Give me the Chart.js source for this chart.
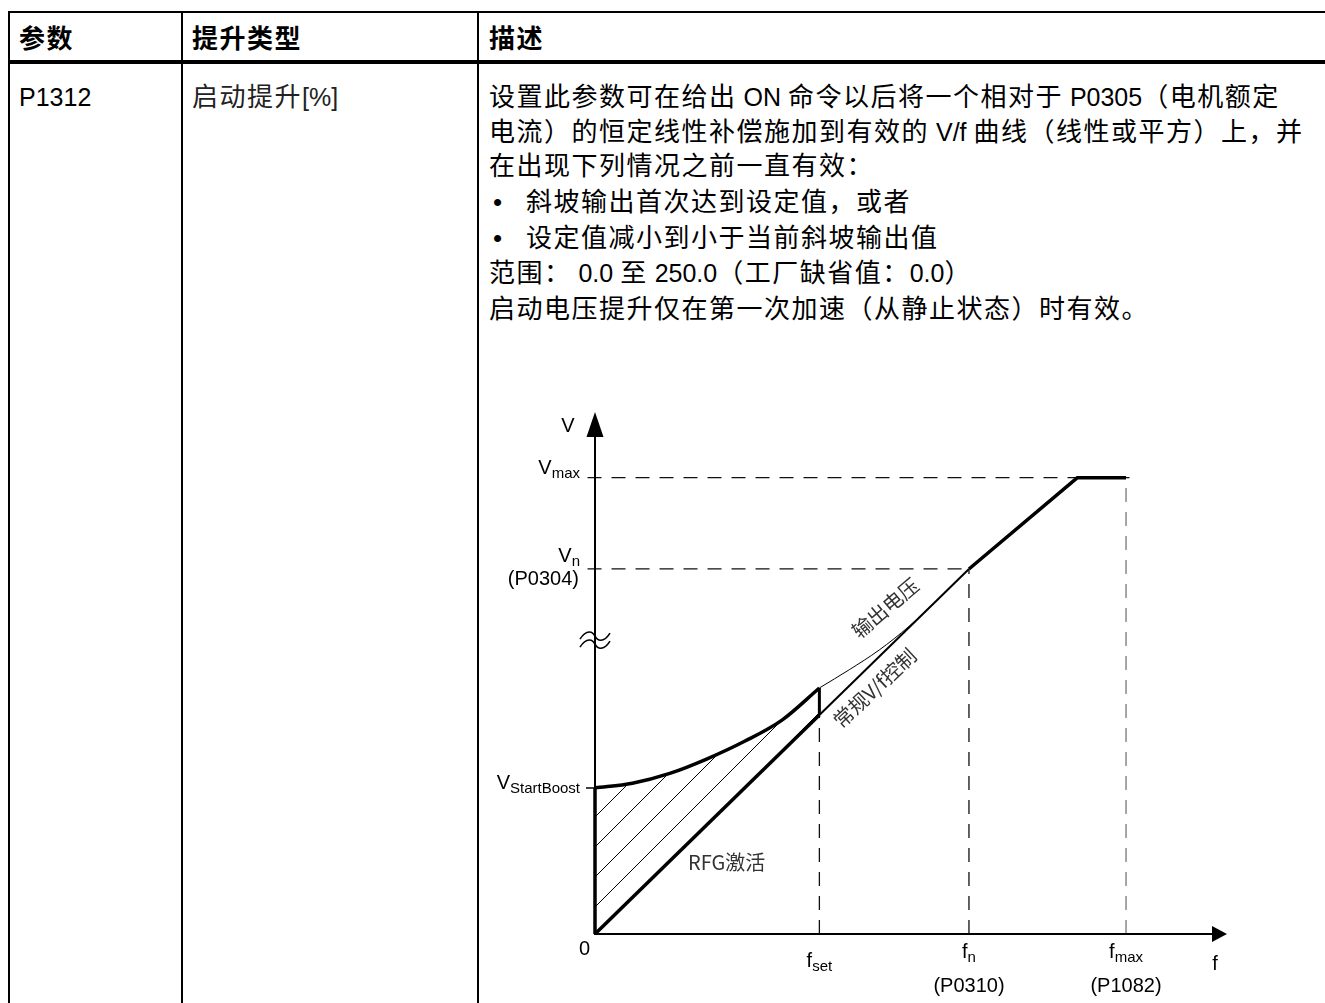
<!DOCTYPE html>
<html>
<head>
<meta charset="utf-8">
<script src="https://cdn.jsdelivr.net/npm/chart.js@4.4.1/dist/chart.umd.min.js"></script>
<style>
body { margin: 0; background: #fff; width: 1325px; height: 1003px; overflow: hidden; position: relative;
       font-family: "Liberation Sans", "Noto Sans CJK SC", sans-serif; color: #000; }
.ln { position: absolute; background: #000; }
.t { position: absolute; white-space: nowrap; font-size: 26px; line-height: 30px; letter-spacing: 1.5px; }
.t .l { letter-spacing: 0; font-size: 25px; }
.h { font-weight: bold; }
#c { position: absolute; left: 0; top: 0; }
</style>
</head>
<body>

<!-- table rules -->
<div class="ln" style="left:8px;top:11px;width:1317px;height:2px"></div>
<div class="ln" style="left:8px;top:60px;width:1317px;height:4px"></div>
<div class="ln" style="left:8px;top:11px;width:2px;height:992px"></div>
<div class="ln" style="left:181px;top:11px;width:2px;height:992px"></div>
<div class="ln" style="left:477px;top:11px;width:2px;height:992px"></div>

<!-- header -->
<div class="t h" style="left:19px;top:24px">参数</div>
<div class="t h" style="left:192px;top:24px">提升类型</div>
<div class="t h" style="left:489px;top:24px">描述</div>

<!-- row -->
<div class="t" style="left:19px;top:82px"><span class="l">P1312</span></div>
<div class="t" style="left:192px;top:82px;color:#222">启动提升<span class="l">[%]</span></div>

<div class="t" style="left:489px;top:82px">设置此参数可在给出<span class="l"> ON </span>命令以后将一个相对于<span class="l"> P0305</span>（电机额定</div>
<div class="t" style="left:489px;top:117px">电流）的恒定线性补偿施加到有效的<span class="l"> V/f </span>曲线（线性或平方）上，并</div>
<div class="t" style="left:489px;top:151px">在出现下列情况之前一直有效：</div>
<div class="t" style="left:493px;top:187px">•</div>
<div class="t" style="left:526px;top:187px">斜坡输出首次达到设定值，或者</div>
<div class="t" style="left:493px;top:223px">•</div>
<div class="t" style="left:526px;top:223px">设定值减小到小于当前斜坡输出值</div>
<div class="t" style="left:489px;top:258px">范围：<span class="l">&nbsp;0.0 </span>至<span class="l"> 250.0</span>（工厂缺省值：<span class="l">0.0</span>）</div>
<div class="t" style="left:489px;top:294px">启动电压提升仅在第一次加速（从静止状态）时有效。</div>

<canvas id="c" width="1325" height="1003"></canvas>

<script>
/* V/f curve data (f in Hz-like units, V in % of Vn) */

const boostF = [0, 5, 10, 15, 20, 25, 30];
const boostV = [40, 41.3, 44, 48, 52.8, 58.6, 67.4];

const outF = [30, 34, 38, 42, 46, 50];
const outV = [67.4, 72.4, 77.8, 84.3, 92, 100];

const vfF = [0, 30, 50, 64.5, 71];
const vfV = [0, 60, 100, 125, 125];

const fTicks = [30, 50, 71];
const fTickSubs = ["set", "n", "max"];
const fTickNotes = ["", "(P0310)", "(P1082)"];

const vTicks = [40, 100, 125];
const vTickSubs = ["StartBoost", "n", "max"];
const vTickNotes = ["", "(P0304)", ""];

const axisMaxF = 84.5;
const axisMaxV = 143;
const guideStartF = -1;
const vmaxGuideEndF = 72.5;
const breakV = 80.5;


/* helpers */

const pts = (fs, vs) => fs.map((f, i) => ({ x: f, y: vs[i] }));

function solid(data, width, extra) {
    return Object.assign({
        data: data,
        borderColor: "#000",
        borderWidth: width,
        pointRadius: 0,
        fill: false,
        clip: false,
        borderJoinStyle: "round"
    }, extra || {});
}

function dashed(data, color) {
    return solid(data, 1.3, { borderColor: color || "#111", borderDash: [14, 10], borderJoinStyle: "miter" });
}


/* hatch pattern for the boost area */

const tile = document.createElement("canvas");
tile.width = 30;
tile.height = 30;
const tctx = tile.getContext("2d");
tctx.strokeStyle = "#000";
tctx.lineWidth = 1;
tctx.beginPath();
tctx.moveTo(-2, 4); tctx.lineTo(4, -2);
tctx.moveTo(-2, 34); tctx.lineTo(34, -2);
tctx.stroke();
const hatch = tctx.createPattern(tile, "repeat");


/* Labels, axes and arrows */

const diagramPlugin = {
    id: "diagram",
    afterDatasetsDraw(chart) {
        const ctx = chart.ctx;
        const xs = chart.scales.x;
        const ys = chart.scales.y;
        const X = v => xs.getPixelForValue(v);
        const Y = v => ys.getPixelForValue(v);
        const x0 = X(0), y0 = Y(0);

        ctx.save();
        ctx.strokeStyle = "#000";
        ctx.fillStyle = "#000";

        // axes
        ctx.lineWidth = 2;
        ctx.beginPath();
        ctx.moveTo(x0, y0 + 1);
        ctx.lineTo(x0, Y(axisMaxV) + 20);
        ctx.moveTo(x0 - 1, y0);
        ctx.lineTo(X(axisMaxF) - 12, y0);
        ctx.stroke();

        ctx.beginPath();
        ctx.moveTo(x0, Y(axisMaxV));
        ctx.lineTo(x0 + 8.5, Y(axisMaxV) + 25);
        ctx.lineTo(x0 - 8.5, Y(axisMaxV) + 25);
        ctx.closePath();
        ctx.fill();

        ctx.beginPath();
        ctx.moveTo(X(axisMaxF), y0);
        ctx.lineTo(X(axisMaxF) - 15, y0 - 8);
        ctx.lineTo(X(axisMaxF) - 15, y0 + 8);
        ctx.closePath();
        ctx.fill();

        // start boost tick
        ctx.lineWidth = 1.5;
        ctx.beginPath();
        ctx.moveTo(x0 - 9, Y(vTicks[0]));
        ctx.lineTo(x0, Y(vTicks[0]));
        ctx.stroke();

        // axis break mark: two tildes
        const by = Y(breakV);
        ctx.lineWidth = 1.6;
        [-4, 4].forEach(dy => {
            ctx.beginPath();
            ctx.moveTo(x0 - 15, by + dy + 3);
            ctx.bezierCurveTo(x0 - 8, by + dy - 8, x0 - 2, by + dy - 4, x0, by + dy);
            ctx.bezierCurveTo(x0 + 2, by + dy + 4, x0 + 8, by + dy + 8, x0 + 15, by + dy - 3);
            ctx.stroke();
        });

        function sub(x, y, main, s, align) {
            ctx.font = '20px "Liberation Sans"';
            const w1 = ctx.measureText(main).width;
            ctx.font = '15px "Liberation Sans"';
            const w2 = ctx.measureText(s).width;
            let left = x;
            if (align === "right") left = x - w1 - w2;
            if (align === "center") left = x - (w1 + w2) / 2;
            ctx.textAlign = "left";
            ctx.textBaseline = "alphabetic";
            ctx.font = '20px "Liberation Sans"';
            ctx.fillText(main, left, y);
            ctx.font = '15px "Liberation Sans"';
            ctx.fillText(s, left + w1, y + 4);
        }

        function plain(x, y, txt, align, font) {
            ctx.font = font || '20px "Liberation Sans"';
            ctx.textAlign = align;
            ctx.textBaseline = "alphabetic";
            ctx.fillText(txt, x, y);
        }

        // V side labels
        const vBase = [1, -7, -4];
        vTicks.forEach((v, i) => {
            sub(x0 - 15, Y(v) + vBase[i], "V", vTickSubs[i], "right");
            if (vTickNotes[i]) plain(x0 - 16, Y(v) + 16, vTickNotes[i], "right");
        });

        // f side labels
        fTicks.forEach((f, i) => {
            const base = fTickNotes[i] ? 24 : 33;
            sub(X(f), y0 + base, "f", fTickSubs[i], "center");
            if (fTickNotes[i]) plain(X(f), y0 + 58, fTickNotes[i], "center");
        });

        plain(x0 - 5, y0 + 21, "0", "right");
        plain(X(axisMaxF) - 12, y0 + 36, "f", "center");
        plain(x0 - 27, Y(axisMaxV) + 20, "V", "center");

        // curve captions
        ctx.fillStyle = "#333";
        const caption = (f, v, ang, txt) => {
            ctx.save();
            ctx.translate(X(f), Y(v));
            ctx.rotate(ang * Math.PI / 180);
            ctx.font = '20px "Noto Sans CJK SC"';
            ctx.textAlign = "center";
            ctx.textBaseline = "middle";
            ctx.fillText(txt, 0, 0);
            ctx.restore();
        };
        caption(38.8, 89.3, -40, "输出电压");
        caption(37.4, 67.4, -43, "常规V/f控制");
        caption(17.6, 19.5, 0, "RFG激活");

        ctx.restore();
    }
};


/* Create Chart */

const ctx = document.getElementById("c");

new Chart(ctx, {
    type: "line",
    data: {
        datasets: [
            solid(pts(boostF, boostV), 3.5, { fill: 1, backgroundColor: hatch, cubicInterpolationMode: "monotone" }),
            solid(pts(vfF.slice(0, 2), vfV.slice(0, 2)), 3.5),
            solid(pts(vfF.slice(1, 3), vfV.slice(1, 3)), 2),
            solid(pts(vfF.slice(2), vfV.slice(2)), 3.5),
            solid(pts(outF, outV), 1, { cubicInterpolationMode: "monotone" }),
            solid(pts([0, 0], [0, boostV[0]]), 3.5),
            solid(pts([fTicks[0], fTicks[0]], [vfV[1], boostV[boostV.length - 1]]), 3),
            dashed(pts([guideStartF, vmaxGuideEndF], [vTicks[2], vTicks[2]])),
            dashed(pts([guideStartF, fTicks[1]], [vTicks[1], vTicks[1]])),
            dashed(pts([fTicks[0], fTicks[0]], [0, vfV[1]])),
            dashed(pts([fTicks[1], fTicks[1]], [0, vTicks[1]])),
            dashed(pts([fTicks[2], fTicks[2]], [0, vTicks[2]]), "#777")
        ]
    },
    options: {
        responsive: false,
        animation: false,
        devicePixelRatio: 1,
        layout: { padding: { left: 595, right: 98, top: 412, bottom: 69 } },
        scales: {
            x: { type: "linear", display: false, min: 0, max: axisMaxF },
            y: { type: "linear", display: false, min: 0, max: axisMaxV }
        },
        plugins: {
            legend: { display: false },
            tooltip: { enabled: false }
        }
    },
    plugins: [diagramPlugin]
});
</script>
</body>
</html>
